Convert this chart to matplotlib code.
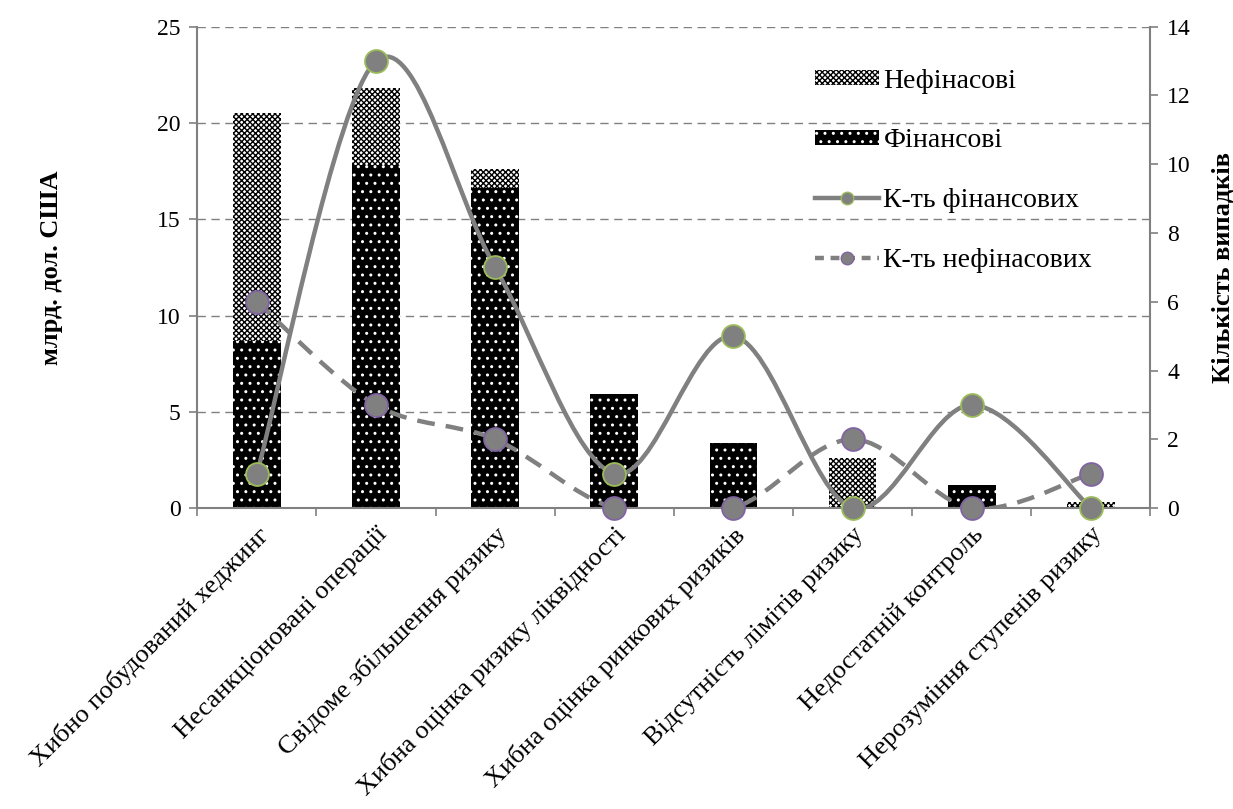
import numpy as np
import matplotlib
matplotlib.use("Agg")
import matplotlib.pyplot as plt
from matplotlib.path import Path
from matplotlib.patches import PathPatch, Patch
from matplotlib.lines import Line2D

plt.rcParams['font.family'] = ['Liberation Serif', 'DejaVu Serif']
plt.rcParams['hatch.linewidth'] = 1.0

categories = [
    'Хибно побудований хеджинг',
    'Несанкціоновані операції',
    'Свідоме збільшення ризику',
    'Хибна оцінка ризику ліквідності',
    'Хибна оцінка ринкових ризиків',
    'Відсутність лімітів ризику',
    'Недостатній контроль',
    'Нерозуміння ступенів ризику',
]
# млрд. дол. США
financial = [8.7, 17.8, 16.6, 5.9, 3.4, 0.0, 1.2, 0.0]
nonfinancial = [11.8, 4.0, 1.0, 0.0, 0.0, 2.6, 0.0, 0.3]
# кількість випадків
count_fin = [1, 13, 7, 1, 5, 0, 3, 0]
count_nonfin = [6, 3, 2, 0, 0, 2, 0, 1]

GREY = '#808080'
HATCH_NF = 'xxxxxx'
HATCH_F = '..'


def smooth_path(xs, ys):
    # catmull-rom -> bezier, like excel's smoothed line
    pts = np.column_stack([xs, ys]).astype(float)
    ext = np.vstack([pts[:1], pts, pts[-1:]])
    verts = [pts[0]]
    codes = [Path.MOVETO]
    for i in range(len(pts) - 1):
        p0, p1, p2, p3 = ext[i], ext[i + 1], ext[i + 2], ext[i + 3]
        c1 = p1 + (p2 - p0) / 6.0
        c2 = p2 - (p3 - p1) / 6.0
        verts += [c1, c2, p2]
        codes += [Path.CURVE4] * 3
    return Path(verts, codes)


x = np.arange(len(categories))

fig = plt.figure(figsize=(12.33, 8.09), dpi=100)
ax = fig.add_axes([0.160, 0.372, 0.773, 0.595])
ax2 = ax.twinx()

ax.bar(x, financial, width=0.4, color='black', edgecolor='white',
       hatch=HATCH_F, linewidth=0, zorder=2)
ax.bar(x, nonfinancial, width=0.4, bottom=financial, color='white',
       edgecolor='black', hatch=HATCH_NF, linewidth=0, zorder=2)

ax.set_xlim(-0.5, len(categories) - 0.5)
ax.set_ylim(0, 25)
ax.set_yticks(range(0, 26, 5))
ax.yaxis.grid(True, linestyle=(0, (6, 4)), color=GREY, linewidth=1.0)
ax.set_axisbelow(True)

ax.set_xticks(x)
ax.set_xticklabels(categories, rotation=45, ha='right', va='top',
                   rotation_mode='anchor', fontsize=19)
ax.tick_params(axis='x', which='major', length=0, pad=11)
ax.set_xticks(np.arange(-0.5, len(categories), 1.0), minor=True)
ax.tick_params(axis='x', which='minor', length=6, width=1.2, color=GREY)
ax.tick_params(axis='y', labelsize=17, length=6, width=1.2, color=GREY, pad=6)

for s in ['top', 'right']:
    ax.spines[s].set_visible(False)
for s in ['left', 'bottom']:
    ax.spines[s].set_color(GREY)
    ax.spines[s].set_linewidth(1.5)

ax.set_ylabel('млрд. дол. США', fontsize=19, fontweight='bold', labelpad=68)

# right axis: counts
ax2.set_ylim(0, 14)
ax2.set_yticks(range(0, 15, 2))
ax2.tick_params(axis='y', labelsize=17, length=6, width=1.2, color=GREY, pad=6)
for s in ['top', 'left', 'bottom']:
    ax2.spines[s].set_visible(False)
ax2.spines['right'].set_color(GREY)
ax2.spines['right'].set_linewidth(1.5)
ax2.set_ylabel('Кількість випадків', fontsize=19, fontweight='bold', labelpad=15)

ax2.add_patch(PathPatch(smooth_path(x, count_fin), fill=False,
                        edgecolor=GREY, linewidth=3.2, zorder=3))
ax2.add_patch(PathPatch(smooth_path(x, count_nonfin), fill=False,
                        edgecolor=GREY, linewidth=3.2,
                        linestyle=(0, (4, 2.5)), zorder=3))
ax2.plot(x, count_fin, linestyle='none', marker='o', markersize=16.5,
         markerfacecolor=GREY, markeredgecolor='#9bbb59', markeredgewidth=1.3,
         clip_on=False, zorder=4)
ax2.plot(x, count_nonfin, linestyle='none', marker='o', markersize=16.5,
         markerfacecolor=GREY, markeredgecolor='#8064a2', markeredgewidth=1.3,
         clip_on=False, zorder=4)

handles = [
    Patch(facecolor='white', edgecolor='black', hatch=HATCH_NF, linewidth=0),
    Patch(facecolor='black', edgecolor='white', hatch=HATCH_F, linewidth=0),
    Line2D([], [], color=GREY, linewidth=3.2, marker='o', markersize=9,
           markerfacecolor=GREY, markeredgecolor='#9bbb59'),
    Line2D([], [], color=GREY, linewidth=3.2, linestyle=(0, (2, 1.5)),
           marker='o', markersize=9, markerfacecolor=GREY,
           markeredgecolor='#8064a2'),
]
labels = ['Нефінасові', 'Фінансові', 'К-ть фінансових', 'К-ть нефінасових']
fig.legend(handles, labels, loc='upper left', bbox_to_anchor=(0.641, 0.946),
           frameon=False, fontsize=20, labelspacing=1.25, handlelength=2.3,
           handletextpad=0.15, handleheight=0.45)

fig.savefig('out.png', dpi=100)
